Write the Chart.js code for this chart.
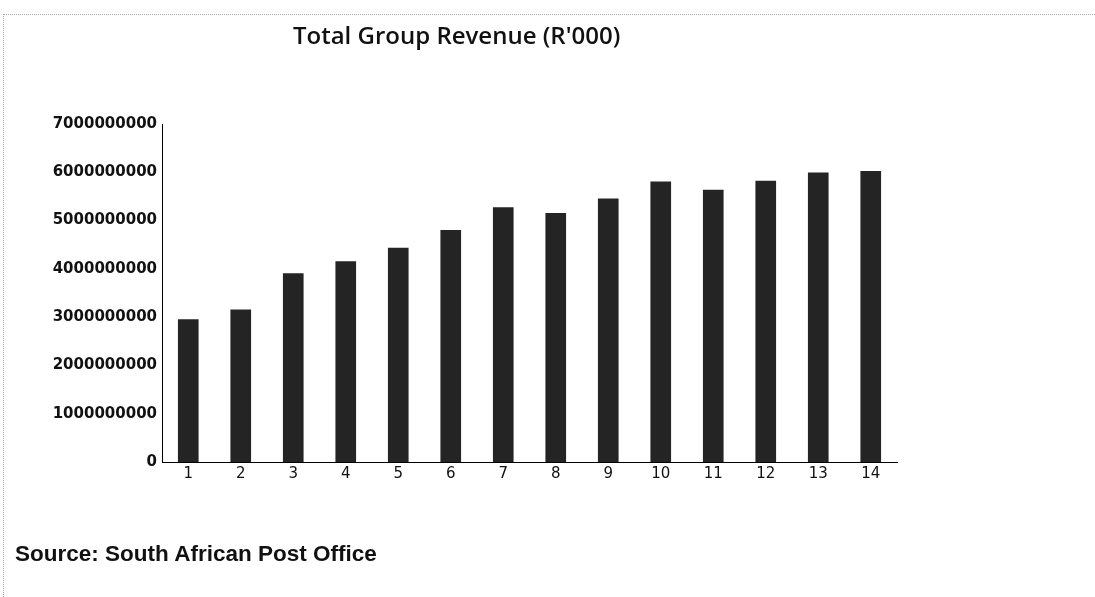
<!DOCTYPE html>
<html>
<head>
<meta charset="utf-8">
<script src="https://cdn.jsdelivr.net/npm/chart.js@4/dist/chart.umd.min.js"></script>
<style>
  html, body { margin: 0; padding: 0; background: #fff; }
  #wrap { position: relative; width: 1095px; height: 597px; overflow: hidden; }
  #chart { position: absolute; left: 0; top: 0; }
  .edge-top { position: absolute; left: 3px; top: 14px; width: 1092px; border-top: 1px dotted #a8a8a8; }
  .edge-left { position: absolute; left: 3px; top: 14px; height: 583px; border-left: 1px dotted #a8a8a8; }
  #title { position: absolute; left: 293px; top: 18px; font-family: "Open Sans", sans-serif;
           font-weight: 600; font-size: 24px; color: #111; white-space: nowrap; }
  #source { position: absolute; left: 15px; top: 541px; font-family: "Liberation Sans", Arial, sans-serif;
            font-weight: bold; font-size: 22.5px; color: #111; white-space: nowrap; }
</style>
</head>
<body>
<div id="wrap">
  <div class="edge-top"></div>
  <div class="edge-left"></div>
  <canvas id="chart" width="1095" height="597"></canvas>
  <div id="title">Total Group Revenue (R'000)</div>
  <div id="source">Source: South African Post Office</div>
</div>
<script>
// categories and values
const categories = ['1', '2', '3', '4', '5', '6', '7', '8', '9', '10', '11', '12', '13', '14'];
const revenue = [2950000000, 3150000000, 3900000000, 4150000000, 4430000000, 4800000000, 5270000000,
                 5150000000, 5450000000, 5800000000, 5630000000, 5820000000, 5990000000, 6020000000];
const yTicks = [0, 1000000000, 2000000000, 3000000000, 4000000000, 5000000000, 6000000000, 7000000000];

const ctx = document.getElementById('chart');
new Chart(ctx, {
  type: 'bar',
  data: {
    labels: categories,
    datasets: [{
      label: 'Total Group Revenue',
      data: revenue,
      backgroundColor: '#242424',
      barThickness: 20,
    }],
  },
  options: {
    responsive: false,
    animation: false,
    layout: { padding: { top: 124, right: 198, bottom: 0, left: 0 } },
    plugins: {
      legend: { display: false },
      tooltip: { enabled: false },
    },
    scales: {
      x: {
        grid: { display: false, drawTicks: false },
        border: { display: true, color: '#000', width: 1 },
        ticks: {
          color: '#111',
          padding: 3,
          maxRotation: 0,
          font: { family: 'DejaVu Sans', size: 15 },
        },
        afterFit: (scale) => { scale.height = 135; },
      },
      y: {
        min: 0,
        max: 7000000000,
        grid: { display: false, drawTicks: false },
        border: { display: true, color: '#000', width: 1 },
        afterBuildTicks: (scale) => { scale.ticks = yTicks.map(v => ({ value: v })); },
        ticks: {
          color: '#111',
          padding: 5,
          callback: (v) => String(v),
          font: { family: 'DejaVu Sans', size: 15, weight: 'bold' },
        },
        afterFit: (scale) => { scale.width = 162; },
      },
    },
  },
});
</script>
</body>
</html>
